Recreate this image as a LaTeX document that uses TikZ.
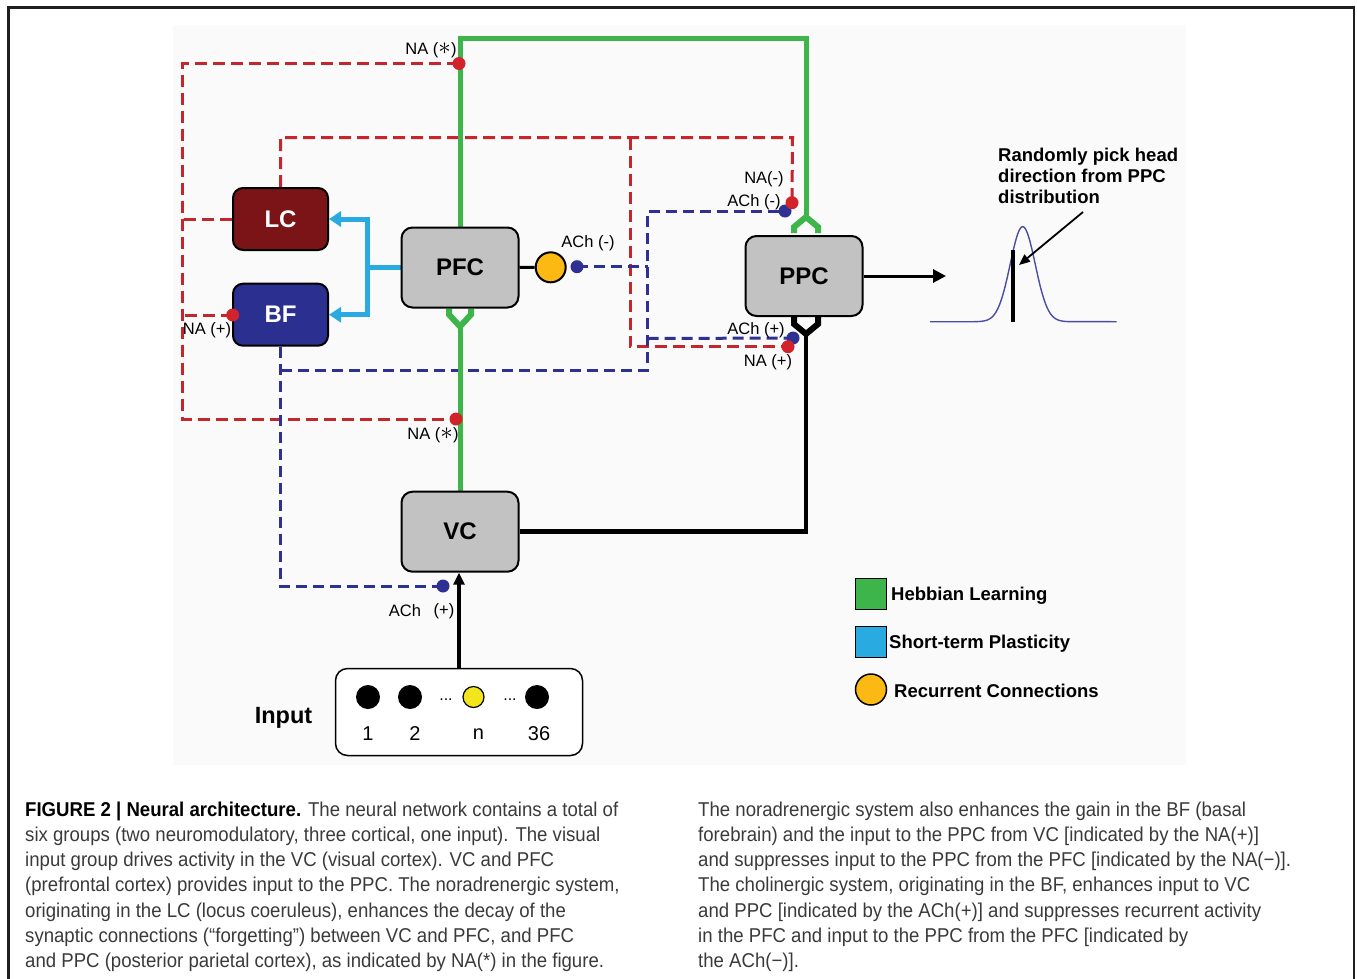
\documentclass[tikz,border=0pt]{standalone}
\usepackage{fontspec}
\setmainfont{Liberation Sans}
\newfontfamily\capfont[FakeStretch=0.93]{Liberation Sans}
\usetikzlibrary{arrows.meta,calc}
\pgfdeclarelayer{back}
\pgfdeclarelayer{bg}
\pgfsetlayers{back,bg,main}
\definecolor{hebb}{HTML}{3DB54A}
\definecolor{stpc}{HTML}{29ABE2}
\definecolor{recc}{HTML}{FDB913}
\definecolor{nared}{HTML}{C4262E}
\definecolor{achblue}{HTML}{2E3192}
\definecolor{lcred}{HTML}{7B1416}
\definecolor{bfblue}{HTML}{2B2F8F}
\definecolor{boxgray}{HTML}{C2C2C2}
\definecolor{dotred}{HTML}{D2232A}
\definecolor{capgray}{HTML}{3A3A3A}
\definecolor{curveblue}{HTML}{4B4BA8}
\definecolor{inyellow}{HTML}{F2E51E}
\newcommand\myfs[1]{\fontsize{#1}{#1}\selectfont}
\newcommand\bigast{\raisebox{-0.5pt}{\scalebox{1.45}{$\ast$}}}
\begin{document}
\begin{tikzpicture}[x=1pt,y=-1pt,
  areabox/.style={rounded corners=11pt, draw=black, line width=2pt, minimum width=117pt, minimum height=80pt, fill=boxgray, font=\myfs{24}\bfseries, inner sep=0},
  modbox/.style={rounded corners=10pt, draw=black, line width=2pt, minimum width=95pt, minimum height=62pt, text=white, font=\myfs{24}\bfseries, inner sep=0},
  hebbline/.style={draw=hebb, line width=5pt},
  chev/.style={line width=6pt},
  stpline/.style={draw=stpc, line width=5pt, -{Triangle[length=12pt,width=15pt]}},
  naline/.style={draw=nared, line width=3pt, dash pattern=on 12pt off 6pt},
  achline/.style={draw=achblue, line width=3pt, dash pattern=on 11pt off 6pt},
  blkline/.style={draw=black, line width=4.5pt},
  rdot/.style={circle, fill=dotred, minimum size=13pt, inner sep=0},
  bdot/.style={circle, fill=achblue, minimum size=13pt, inner sep=0},
  lbl/.style={font=\myfs{16.5}, inner sep=0},
  blbl/.style={font=\myfs{18.5}\bfseries, inner sep=0, anchor=west},
  capl/.style={anchor=base west, inner sep=0, font=\capfont\myfs{20}, text=capgray},
  indot/.style={circle, fill=black, minimum size=24pt, inner sep=0}
]
\useasboundingbox (0,0) rectangle (1357,978);
\begin{pgfonlayer}{back}
\fill[black!2] (173,25) rectangle (1186,765);
\end{pgfonlayer}
\draw[line width=2.7pt, black!88] (8.7,990) -- (8.7,7.5) -- (1354,7.5) -- (1354,990);

% nodes
\node[modbox, fill=lcred] (LC) at (280.5,219) {LC};
\node[modbox, fill=bfblue] (BF) at (280.5,314.7) {BF};
\node[areabox] (PFC) at (460,267.5) {PFC};
\node[areabox] (PPC) at (804,276) {PPC};
\node[areabox] (VC) at (460,531.7) {VC};
\node[rounded corners=12pt, draw=black, line width=1.5pt, fill=white, minimum width=247pt, minimum height=87pt] (IN) at (459,712) {};
\node[circle, draw=black, line width=2pt, fill=recc, minimum size=30pt, inner sep=0] (REC) at (550.7,267.3) {};

% dots
\node[bdot] (dR) at (577,266.7) {};
\node[bdot] (dPm) at (785,211) {};
\node[bdot] (dPp) at (793,338) {};
\node[bdot] (dV) at (443,586) {};
\node[rdot] (nT) at (459,63.5) {};
\node[rdot] (nB) at (456,419) {};
\node[rdot] (nBF) at (232.7,315) {};
\node[rdot] (nPm) at (792,202.7) {};
\node[rdot] (nPp) at (788,346.7) {};

\coordinate (gA) at ($(PPC.north)+(2,-18)$);
\coordinate (pA) at ($(PFC.south)+(0,18)$);
\coordinate (bA) at ($(PPC.south)+(2,17)$);
\coordinate (outE) at (946,276);

\begin{pgfonlayer}{bg}
% red NA lines
\draw[naline] (nT.center) -- (182,63.5) -- (182,419) -- (nB.center);
\draw[naline] (LC.west) -- (182,219);
\draw[naline] (nBF.center) -- (182,315);
\draw[naline] (LC.north) -- (LC.north |- 0,137.5) -- (792.5,137.5) -- (nPm.center);
\draw[naline] (630,137.5) -- (630,346.7) -- (nPp.center);
% blue ACh lines
\draw[achline] (BF.south) -- (BF.south |- 0,586) -- (dV.center);
\draw[achline] (281,370.5) -- (647.5,370.5) -- (647.5,211) -- (dPm.center);
\draw[achline] (647.5,338.5) -- (dPp.center);
\draw[achline] (dR.center) -- (647.5,266.7);
% green Hebbian
\draw[hebbline] (PFC.north) -- (PFC.north |- 0,38) -| (gA);
\draw[hebbline, chev] ($(gA)+(-12,16)$) -- ++(0,-6) -- (gA) -- ++(12,10) -- ++(0,6);
\draw[hebbline, chev] ($(pA)+(-11,-18)$) -- ++(0,6) -- (pA) -- ++(11,-12) -- ++(0,-6);
\draw[hebbline] (pA) -- (VC.north);
% black VC -> PPC
\draw[blkline] (VC.east) -| (bA);
\draw[blkline, chev] ($(bA)+(-12,-17)$) -- ++(0,7) -- (bA) -- ++(12,-10) -- ++(0,-7);
% recurrent
\draw[line width=3pt] (PFC.east) -- (REC.west);
% cyan STP
\draw[stpline] (PFC.west) -- ++(-33,0) |- (LC.east);
\draw[stpline] (PFC.west) -- ++(-33,0) |- (BF.east);
% input arrow
\draw[line width=3.5pt, -{Triangle[length=12pt,width=11pt]}] (IN.north) -- (IN.north |- VC.south);
% output arrow
\draw[line width=3pt, -{Triangle[length=13pt,width=13pt]}] (PPC.east) -- (outE);
\end{pgfonlayer}

% labels
\node[lbl] (l1) at (431,50) {NA (\bigast)};
\node[lbl] (l2) at (433,435) {NA (\bigast)};
\node[lbl] (l3) at (207,330) {NA (+)};
\node[lbl] (l4) at (588,243) {ACh (-)};
\node[lbl] (l5) at (764,179) {NA(-)};
\node[lbl] (l6) at (754,202) {ACh (-)};
\node[lbl] (l7) at (756,330) {ACh (+)};
\node[lbl] (l8) at (768,362) {NA (+)};
\node[lbl] (l9) at (405,611) {ACh};
\node[lbl] (l10) at (444,611) {(+)};

% distribution
\draw[curveblue, line width=1.4pt] (930,321.7) -- (975,321.7)
  -- plot[domain=975:1070, samples=140] (\x,{321.7-95*exp(-((\x-1022.7)/12.5)^2/2)})
  -- (1116.7,321.7);
\draw[line width=4pt] (1013,250) -- (1013,322);
\node[blbl, align=left, anchor=north west, font=\myfs{18.5}\bfseries\linespread{1.12}\selectfont] (rtxt) at (998,148) {Randomly pick head\\direction from PPC\\distribution};
\coordinate (arS) at (1083,212);
\coordinate (arE) at (1019,265);
\draw[line width=1.8pt, -{Triangle[length=11pt,width=9pt]}] (arS) -- (arE);

% legend
\node[draw=black, line width=1.2pt, fill=hebb, minimum size=31pt, inner sep=0] (lg1) at (871,594) {};
\node[blbl] at (891,596) {Hebbian Learning};
\node[draw=black, line width=1.2pt, fill=stpc, minimum size=31pt, inner sep=0] (lg2) at (871,642) {};
\node[blbl] at (889,644) {Short-term Plasticity};
\node[circle, draw=black, line width=1.5pt, fill=recc, minimum size=31pt, inner sep=0] (lg3) at (871,689.5) {};
\node[blbl] at (894,690.5) {Recurrent Connections};

% input
\node[font=\myfs{23.5}\bfseries, inner sep=0] (inl) at (283.5,718) {Input};
\node[indot] (i1) at (368,697) {};
\node[indot] (i2) at (410,697) {};
\node[circle, draw=black, line width=1.2pt, fill=inyellow, minimum size=21pt, inner sep=0] (i3) at (473.5,697) {};
\node[indot] (i4) at (537,697) {};
\node[font=\myfs{16}, inner sep=0] at (446,700) {...};
\node[font=\myfs{16}, inner sep=0] at (510,700) {...};
\node[font=\myfs{20}, inner sep=0] at (368,734) {1};
\node[font=\myfs{20}, inner sep=0] at (415,734) {2};
\node[font=\myfs{20}, inner sep=0] at (478.5,734) {n};
\node[font=\myfs{20}, inner sep=0] at (539,734) {36};

% caption
\node[capl] at (25,816) {\textcolor{black}{\bfseries FIGURE 2 | Neural architecture.} The neural network contains a total of};
\node[capl] at (25,841.3) {six groups (two neuromodulatory, three cortical, one input). The visual};
\node[capl] at (25,866.6) {input group drives activity in the VC (visual cortex). VC and PFC};
\node[capl] at (25,891.9) {(prefrontal cortex) provides input to the PPC. The noradrenergic system,};
\node[capl] at (25,917.2) {originating in the LC (locus coeruleus), enhances the decay of the};
\node[capl] at (25,942.5) {synaptic connections (“forgetting”) between VC and PFC, and PFC};
\node[capl] at (25,967.8) {and PPC (posterior parietal cortex), as indicated by NA(*) in the figure.};
\node[capl] at (698,816) {The noradrenergic system also enhances the gain in the BF (basal};
\node[capl] at (698,841.3) {forebrain) and the input to the PPC from VC [indicated by the NA(+)]};
\node[capl] at (698,866.6) {and suppresses input to the PPC from the PFC [indicated by the NA(−)].};
\node[capl] at (698,891.9) {The cholinergic system, originating in the BF, enhances input to VC};
\node[capl] at (698,917.2) {and PPC [indicated by the ACh(+)] and suppresses recurrent activity};
\node[capl] at (698,942.5) {in the PFC and input to the PPC from the PFC [indicated by};
\node[capl] at (698,967.8) {the ACh(−)].};
\end{tikzpicture}
\end{document}
